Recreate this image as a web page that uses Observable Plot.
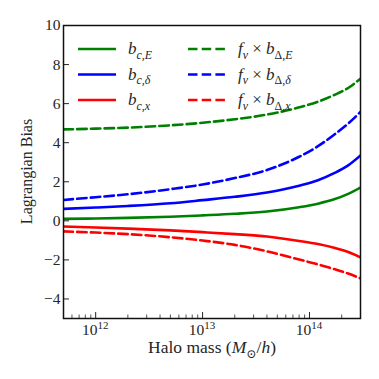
<!DOCTYPE html>
<html>
<head>
<meta charset="utf-8">
<script src="https://cdn.jsdelivr.net/npm/d3@7"></script>
<script src="https://cdn.jsdelivr.net/npm/@observablehq/plot@0.6"></script>
<style>
  html, body { margin: 0; padding: 0; background: #fff; }
  #chart { width: 379px; height: 379px; }
  #chart svg text, #chart svg tspan { font-family: "Liberation Serif", "Times New Roman", Times, "DejaVu Serif", serif; }
</style>
</head>
<body>
<div id="chart"></div>
<script>
// ---- data ----
const masses   = [5e11, 1e12, 2e12, 5e12, 1e13, 2e13, 4e13, 8e13, 1.2e14, 1.7e14, 2.3e14, 3e14];
const bcE      = [0.10, 0.12, 0.15, 0.21, 0.28, 0.36, 0.48, 0.70, 0.88, 1.10, 1.38, 1.70];
const bcDelta  = [0.61, 0.68, 0.76, 0.90, 1.06, 1.23, 1.45, 1.80, 2.08, 2.44, 2.84, 3.35];
const bcX      = [-0.29, -0.34, -0.40, -0.49, -0.58, -0.68, -0.80, -1.03, -1.19, -1.38, -1.60, -1.87];
const fbE      = [4.68, 4.72, 4.77, 4.89, 5.02, 5.20, 5.44, 5.81, 6.10, 6.44, 6.80, 7.28];
const fbDelta  = [1.07, 1.21, 1.36, 1.62, 1.86, 2.19, 2.60, 3.28, 3.82, 4.41, 4.98, 5.58];
const fbX      = [-0.54, -0.60, -0.68, -0.84, -1.01, -1.23, -1.56, -1.98, -2.23, -2.47, -2.70, -2.95];

const yTicks = [-4, -2, 0, 2, 4, 6, 8, 10];
const xMajor = [1e12, 1e13, 1e14];
const xMajorExp = ["12", "13", "14"];
const xMinor = [5e11, 6e11, 7e11, 8e11, 9e11, 2e12, 3e12, 4e12, 5e12, 6e12, 7e12, 8e12, 9e12,
                2e13, 3e13, 4e13, 5e13, 6e13, 7e13, 8e13, 9e13, 2e14, 3e14];

const seriesNames  = ["bcE", "bcDelta", "bcX", "fbE", "fbDelta", "fbX"];
const seriesValues = [bcE, bcDelta, bcX, fbE, fbDelta, fbX];
const seriesColors = ["#008000", "#0000ff", "#ff0000", "#008000", "#0000ff", "#ff0000"];
const seriesDashed = [false, false, false, true, true, true];
// legend labels as segments: [text, italic, subscript]
const seriesLabels = [
  [["b", 1, 0], ["c,E", 1, 1]],
  [["b", 1, 0], ["c,δ", 1, 1]],
  [["b", 1, 0], ["c,x", 1, 1]],
  [["f", 1, 0], ["ν", 1, 1], [" × ", 0, 0], ["b", 1, 0], ["Δ,", 0, 1], ["E", 1, 1]],
  [["f", 1, 0], ["ν", 1, 1], [" × ", 0, 0], ["b", 1, 0], ["Δ,", 0, 1], ["δ", 1, 1]],
  [["f", 1, 0], ["ν", 1, 1], [" × ", 0, 0], ["b", 1, 0], ["Δ,", 0, 1], ["x", 1, 1]]
];

// ---- build table ----
const rows = [];
seriesNames.forEach((s, k) => {
  masses.forEach((m, i) => rows.push({series: s, m, v: seriesValues[k][i], k}));
});

const FONT = "\"Liberation Serif\", \"Times New Roman\", Times, \"DejaVu Serif\", serif";
const DASH = "9.5,4.2";
const LW = 2.6;
const TXT = "#262626";

const lineMarks = seriesNames.map((s, k) =>
  Plot.line(rows.filter(r => r.series === s), {
    x: "m", y: "v", stroke: seriesColors[k], strokeWidth: LW,
    strokeDasharray: seriesDashed[k] ? DASH : null, curve: "monotone-x", clip: true
  })
);

const chart = Plot.plot({
  width: 379,
  height: 379,
  marginLeft: 63,
  marginRight: 19,
  marginTop: 25,
  marginBottom: 61,
  style: {fontFamily: FONT, fontSize: "15.5px", color: TXT, background: "#fff"},
  x: {type: "log", domain: [5e11, 3e14]},
  y: {domain: [-5, 10]},
  marks: [
    ...lineMarks,
    Plot.axisY({ticks: yTicks, tickSize: -6, tickPadding: 9, label: null, strokeWidth: 1}),
    Plot.axisX({ticks: xMajor, tickSize: -6, tickPadding: 10, label: null, strokeWidth: 1,
                tickFormat: () => ""}),
    Plot.axisX({ticks: xMinor, tickSize: -3.5, tickPadding: 10, label: null, strokeWidth: 0.8,
                tickFormat: () => ""}),
    Plot.frame({stroke: "#111", strokeWidth: 1.5})
  ]
});
document.getElementById("chart").appendChild(chart);

// ---- rich text helpers ----
const svg = d3.select(chart);
function richText(g, segments, x, y, size, anchor) {
  const t = g.append("text").attr("x", x).attr("y", y)
    .attr("font-family", FONT).attr("font-size", size).attr("fill", TXT)
    .attr("text-anchor", anchor || "start");
  let sub = false;
  segments.forEach(([txt, it, sb]) => {
    const ts = t.append("tspan").text(txt);
    if (it) ts.attr("font-style", "italic");
    if (sb && !sub) ts.attr("dy", size * 0.28);
    if (!sb && sub) ts.attr("dy", -size * 0.28);
    if (sb) ts.attr("font-size", size * 0.7);
    sub = !!sb;
  });
  return t;
}

// ---- x tick labels (10^n) placed with Plot's own x scale ----
const xs = chart.scale("x");
const ys = chart.scale("y");
const yBottom = ys.apply(ys.domain[0]);
xMajor.forEach((v, i) => {
  const t = svg.append("text").attr("x", xs.apply(v)).attr("y", yBottom + 17)
    .attr("text-anchor", "middle").attr("font-family", FONT)
    .attr("font-size", 15.5).attr("fill", TXT);
  t.append("tspan").text("10");
  t.append("tspan").text(xMajorExp[i]).attr("font-size", 11).attr("dy", -6);
});

// ---- legend ----
const legend = svg.append("g");
const rowY = [49, 74.5, 100];
seriesNames.forEach((s, k) => {
  const col = k < 3 ? 0 : 1;
  const r = k % 3;
  const x0 = col === 0 ? 78 : 188;
  const x1 = col === 0 ? 116 : 225;
  const tx = col === 0 ? 128 : 238;
  legend.append("line").attr("x1", x0).attr("x2", x1).attr("y1", rowY[r]).attr("y2", rowY[r])
    .attr("stroke", seriesColors[k]).attr("stroke-width", LW)
    .attr("stroke-dasharray", seriesDashed[k] ? DASH : null);
  richText(legend, seriesLabels[k], tx, rowY[r] + 5, 17);
});

// ---- axis titles ----
richText(svg, [["Halo mass ", 0, 0], ["(", 0, 0], ["M", 1, 0], ["⊙", 0, 1], ["/", 0, 0], ["h", 1, 0], [")", 0, 0]],
  212, 353, 17.5, "middle");
svg.append("text")
  .attr("transform", "translate(32,171.5) rotate(-90)")
  .attr("text-anchor", "middle")
  .attr("font-family", FONT).attr("font-size", 16).attr("fill", TXT)
  .text("Lagrangian Bias");
</script>
</body>
</html>
